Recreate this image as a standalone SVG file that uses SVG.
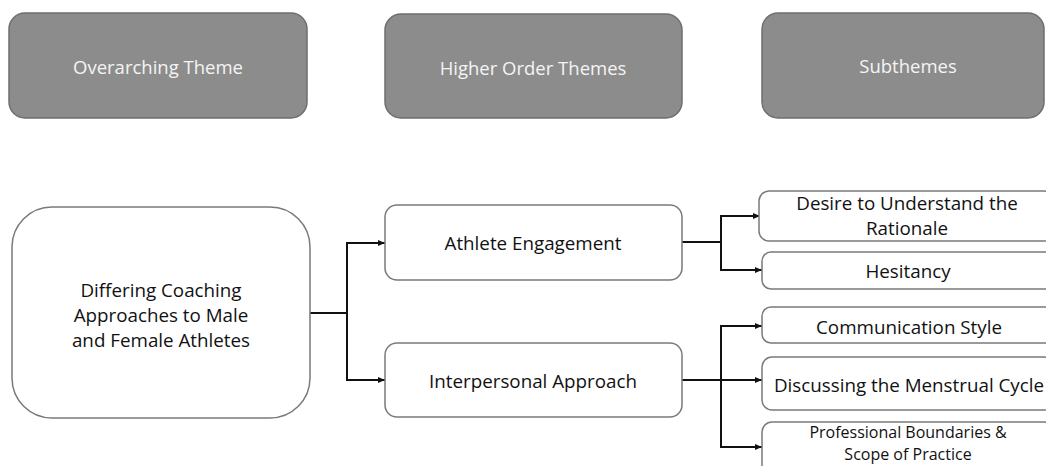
<svg xmlns="http://www.w3.org/2000/svg" width="1046" height="466" viewBox="0 0 1046 466">
  <style>
    .head rect { fill: #8c8c8c; stroke: #6e6e6e; stroke-width: 1.5; }
    .head text { fill: #f4f4f4; font-family: "Open Sans", "Liberation Sans", sans-serif; font-size: 18.5px; text-anchor: middle; dominant-baseline: central; }
    .node rect { fill: #ffffff; stroke: #7a7a7a; stroke-width: 1.5; }
    .node text { fill: #111111; font-family: "Open Sans", "Liberation Sans", sans-serif; font-size: 18.8px; text-anchor: middle; dominant-baseline: central; }
    .node text.tight { font-size: 16px; }
    .conn path { fill: none; stroke: #111111; stroke-width: 2; }
  </style>
  <defs>
    <marker id="arrow" markerWidth="8" markerHeight="8" refX="7" refY="4" orient="auto" markerUnits="userSpaceOnUse">
      <path d="M0,1 L7,4 L0,7 Z" fill="#111111"/>
    </marker>
  </defs>
  <rect width="1046" height="466" fill="#ffffff"/>

  <!-- column headers -->
  <g id="head-overarching" class="head">
    <rect x="9" y="13" width="298" height="105" rx="16"/>
    <text x="158" y="66">Overarching Theme</text>
  </g>
  <g id="head-higher" class="head">
    <rect x="385" y="14" width="297" height="104" rx="16"/>
    <text x="533" y="67">Higher Order Themes</text>
  </g>
  <g id="head-sub" class="head">
    <rect x="762" y="13" width="282" height="105" rx="16"/>
    <text x="908" y="65">Subthemes</text>
  </g>

  <!-- connectors -->
  <g id="connectors" class="conn">
    <path d="M310,313 H347"/>
    <path d="M347,313 V243 H385" marker-end="url(#arrow)"/>
    <path d="M347,313 V380 H385" marker-end="url(#arrow)"/>
    <path d="M682,242 H721"/>
    <path d="M721,242 V216 H760" marker-end="url(#arrow)"/>
    <path d="M721,242 V270 H762" marker-end="url(#arrow)"/>
    <path d="M682,380 H721"/>
    <path d="M721,380 V326 H762" marker-end="url(#arrow)"/>
    <path d="M721,380 H762" marker-end="url(#arrow)"/>
    <path d="M721,380 V447 H762" marker-end="url(#arrow)"/>
  </g>

  <!-- overarching theme -->
  <g id="node-differing" class="node">
    <rect x="12" y="207" width="298" height="211" rx="40"/>
    <text x="161" y="290">Differing Coaching</text>
    <text x="161" y="315">Approaches to Male</text>
    <text x="161" y="340">and Female Athletes</text>
  </g>

  <!-- higher order themes -->
  <g id="node-engagement" class="node">
    <rect x="385" y="205" width="297" height="75" rx="12"/>
    <text x="533" y="243">Athlete Engagement</text>
  </g>
  <g id="node-interpersonal" class="node">
    <rect x="385" y="343" width="297" height="74" rx="12"/>
    <text x="533" y="381">Interpersonal Approach</text>
  </g>

  <!-- subthemes -->
  <g id="node-rationale" class="node">
    <rect x="759" y="191" width="295" height="50" rx="10"/>
    <text x="907" y="203">Desire to Understand the</text>
    <text x="907" y="228">Rationale</text>
  </g>
  <g id="node-hesitancy" class="node">
    <rect x="762" y="252" width="292" height="37" rx="9"/>
    <text x="908" y="271">Hesitancy</text>
  </g>
  <g id="node-communication" class="node">
    <rect x="762" y="307" width="292" height="36" rx="9"/>
    <text x="909" y="327">Communication Style</text>
  </g>
  <g id="node-menstrual" class="node">
    <rect x="762" y="357" width="292" height="53" rx="10"/>
    <text x="909" y="385">Discussing the Menstrual Cycle</text>
  </g>
  <g id="node-boundaries" class="node">
    <rect x="762" y="422" width="292" height="60" rx="10"/>
    <text class="tight" x="908" y="432">Professional Boundaries &amp;</text>
    <text class="tight" x="908" y="454">Scope of Practice</text>
  </g>
</svg>
